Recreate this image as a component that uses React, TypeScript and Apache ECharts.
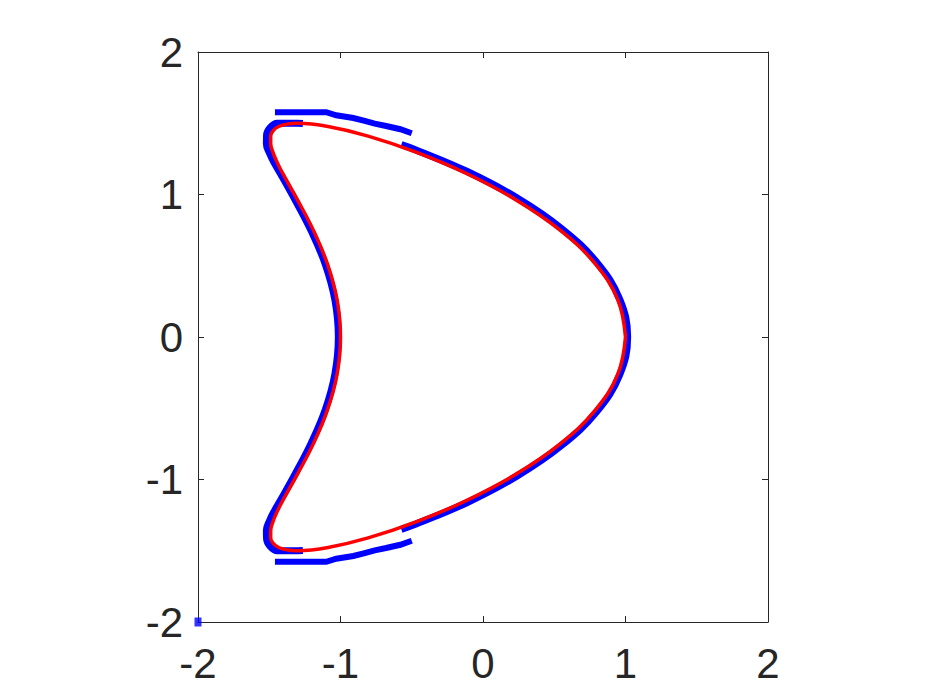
import React, { useEffect, useRef } from "react";
import * as echarts from "echarts";

const xTicks = [-2, -1, 0, 1, 2];
const yTicks = [-2, -1, 0, 1, 2];

// red curve (true boundary)
const redUpper: [number, number][] = [
  [1.0, 0.0], [0.946, 0.261], [0.788, 0.513], [0.541, 0.75], [0.229, 0.964],
  [-0.12, 1.149], [-0.475, 1.299], [-0.806, 1.41], [-1.087, 1.477], [-1.3, 1.5],
  [-1.377, 1.494], [-1.434, 1.477], [-1.472, 1.449], [-1.49, 1.41], [-1.49, 1.36],
  [-1.475, 1.299], [-1.446, 1.229], [-1.406, 1.149], [-1.303, 0.964], [-1.191, 0.75],
  [-1.092, 0.513], [-1.024, 0.261], [-1.0, 0.0],
];
const redLower: [number, number][] = [
  [-1.024, -0.261], [-1.092, -0.513], [-1.191, -0.75], [-1.303, -0.964], [-1.406, -1.149],
  [-1.446, -1.229], [-1.475, -1.299], [-1.49, -1.36], [-1.49, -1.41], [-1.472, -1.449],
  [-1.434, -1.477], [-1.377, -1.494], [-1.3, -1.5], [-1.087, -1.477], [-0.806, -1.41],
  [-0.475, -1.299], [-0.12, -1.149], [0.229, -0.964], [0.541, -0.75], [0.788, -0.513],
  [0.946, -0.261], [1.0, 0.0],
];

// blue reconstructed points: right band
const blueRight: [number, number][] = [
  [-0.573, -1.35], [-0.47, -1.313], [-0.114, -1.163], [0.237, -0.977], [0.55, -0.762],
  [0.799, -0.523], [0.959, -0.266], [1.015, 0.0], [0.959, 0.266], [0.799, 0.523],
  [0.55, 0.762], [0.237, 0.977], [-0.114, 1.163], [-0.47, 1.313], [-0.573, 1.35],
];
// blue: left band (both tips and the inner notch)
const blueLeft: [number, number][] = [
  [-1.264, 1.499], [-1.3, 1.5], [-1.378, 1.5], [-1.445, 1.5], [-1.495, 1.468],
  [-1.519, 1.415], [-1.52, 1.355], [-1.499, 1.291], [-1.464, 1.22], [-1.419, 1.142],
  [-1.316, 0.957], [-1.205, 0.743], [-1.106, 0.508], [-1.039, 0.258], [-1.015, 0.0],
  [-1.039, -0.258], [-1.106, -0.508], [-1.205, -0.743], [-1.316, -0.957], [-1.419, -1.142],
  [-1.464, -1.22], [-1.499, -1.291], [-1.52, -1.355], [-1.519, -1.415], [-1.495, -1.468],
  [-1.445, -1.5], [-1.378, -1.5], [-1.3, -1.5], [-1.264, -1.499],
];
// blue: stray arcs above and below
const blueTopArc: [number, number][] = [
  [-1.46, 1.578], [-1.1, 1.578], [-1.03, 1.556], [-0.91, 1.537], [-0.83, 1.516],
  [-0.76, 1.497], [-0.68, 1.481], [-0.58, 1.458], [-0.5, 1.43],
];
const blueBottomArc: [number, number][] = [
  [-1.46, -1.578], [-1.1, -1.578], [-1.03, -1.556], [-0.91, -1.537], [-0.83, -1.516],
  [-0.76, -1.497], [-0.68, -1.481], [-0.58, -1.458], [-0.5, -1.43],
];
const blueCorner: [number, number][] = [[-2, -2]];

const BLUE = "#0000ff";
const RED = "#ff0000";
const AX = "#262626";

export default function App() {
  const ref = useRef<HTMLDivElement>(null);
  useEffect(() => {
    if (!ref.current) return;
    const chart = echarts.init(ref.current, undefined, { renderer: "svg" });
    const font = "'Liberation Sans', Arial, Helvetica, sans-serif";
    const baseAxis = {
      type: "value" as const,
      min: -2,
      max: 2,
      interval: 1,
      axisLine: { show: true, onZero: false, lineStyle: { color: AX, width: 1 } },
      axisTick: { show: true, inside: true, length: 6, lineStyle: { color: AX, width: 1 } },
      splitLine: { show: false },
    };
    const fmt = (v: number) => {
      const all = xTicks.concat(yTicks);
      return all.indexOf(v) >= 0 ? String(v) : "";
    };
    const bandLine = (data: [number, number][], w: number) => ({
      type: "line" as const,
      data,
      smooth: 0.4,
      showSymbol: false,
      symbol: "none",
      clip: false,
      lineStyle: { color: BLUE, width: w, cap: "butt" as const, join: "miter" as const },
      z: 2,
    });
    chart.setOption({
      animation: false,
      backgroundColor: "#ffffff",
      grid: { left: 198, right: 166, top: 52, bottom: 78, containLabel: false },
      xAxis: [
        {
          ...baseAxis,
          position: "bottom",
          axisLabel: { show: true, fontSize: 42, color: AX, fontFamily: font, margin: 20, formatter: fmt },
        },
        { ...baseAxis, position: "top", axisLabel: { show: false } },
      ],
      yAxis: [
        {
          ...baseAxis,
          position: "left",
          axisLabel: { show: true, fontSize: 42, color: AX, fontFamily: font, margin: 15, formatter: fmt },
        },
        { ...baseAxis, position: "right", axisLabel: { show: false } },
      ],
      series: [
        bandLine(blueRight, 7),
        bandLine(blueLeft, 7),
        { ...bandLine(blueTopArc, 6), smooth: false },
        { ...bandLine(blueBottomArc, 6), smooth: false },
        {
          type: "scatter",
          data: blueCorner,
          symbol: "rect",
          symbolSize: [7, 9],
          itemStyle: { color: BLUE },
          clip: false,
          z: 2,
        },
        {
          type: "line",
          data: redUpper.concat(redLower),
          smooth: 0.4,
          showSymbol: false,
          symbol: "none",
          clip: false,
          lineStyle: { color: RED, width: 3.5 },
          z: 3,
        },
      ],
    });
    return () => chart.dispose();
  }, []);
  return (
    <div
      ref={ref}
      style={{ position: "absolute", left: 0, top: 0, width: 934, height: 700, background: "#fff" }}
    />
  );
}
